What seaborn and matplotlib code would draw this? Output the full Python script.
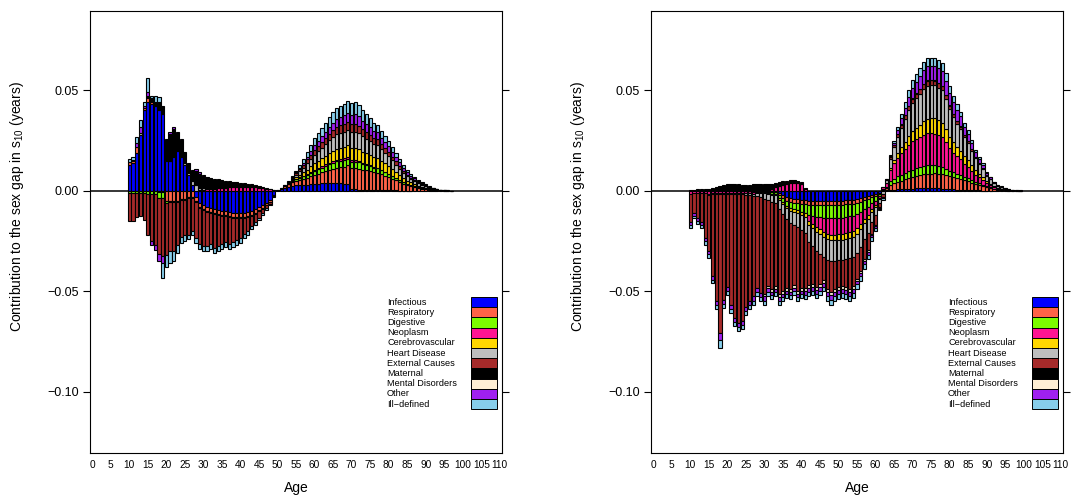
import numpy as np
import matplotlib
matplotlib.use("Agg")
import matplotlib.pyplot as plt
import seaborn as sns
from matplotlib.patches import Rectangle

# ---------------- data (values in 1/1000 years), ages 10..105 ----------------
ages = list(range(10, 106))

causes = ["Infectious", "Respiratory", "Digestive", "Neoplasm", "Cerebrovascular",
          "Heart Disease", "External Causes", "Maternal", "Mental Disorders",
          "Other", "Ill\u2212defined"]
colors = ["#0000FF", "#FF6347", "#7CFC00", "#FF1493", "#FFD700", "#BEBEBE",
          "#A52A2A", "#000000", "#FFEFD5", "#A020F0", "#87CEEB"]

x_ticks = list(range(0, 111, 5))
y_ticks = [0.05, 0.00, -0.05, -0.10]

# ----- left panel -----
L_infectious = [
    13, 14, 19, 28, 40, 44, 43, 42, 40, 38,
    15, 15, 17, 20, 17, 13, 8, 3, -3, -6,
    -7, -8, -8.5, -9, -9.5, -10, -10, -10.5, -11, -11,
    -11, -11, -10.5, -10, -9, -8, -7, -6, -4.5, -2,
    0.3, 1, 1.5, 2, 2.5, 3, 3, 3, 3, 3.2,
    3.5, 3.5, 3.7, 3.8, 4, 4, 4, 3.8, 3.5, 3.2,
    0.8, 0.7, 0.6, 0.5, 0.5, 0.4, 0.4, 0.3, 0.3, 0.3,
    0.2, 0.2, 0.2, 0.1, 0.1, 0.1, 0.1, 0, 0, 0,
    0, 0, 0, 0, 0, 0, 0, 0, 0, 0,
    0, 0, 0, 0, 0, 0]
L_respiratory = [
    1.5, 1, 3, 0, 1, 2, 1, 0, -0.5, -0.5,
    -5, -5, -5, -5, -4, -4, -3, -3, -2, -2,
    -2, -2, -2, -2, -2, -2, -2, -2, -2, -2,
    -2, -2, -2, -2, -2, -1.5, -1.5, -1, -1, -0.5,
    0, 0.3, 0.8, 1.2, 1.7, 2, 2.5, 3, 3.5, 4,
    4.5, 5, 5.5, 6, 6.5, 7, 7.5, 8, 8.5, 9.5,
    10.5, 10.5, 10.5, 10, 9.8, 9.5, 9, 8.8, 8, 7.3,
    6.6, 5.8, 5, 4.2, 3.4, 2.7, 2.2, 1.8, 1.4, 1.1,
    0.8, 0.6, 0.4, 0.3, 0.2, 0.1, 0.1, 0.05, 0, 0,
    0, 0, 0, 0, 0, 0]
L_digestive = [
    -1, -1, -1, -1, -1, -1.5, -1.5, -1.5, -3, -3,
    -1, -0.5, -0.5, -0.5, -0.5, -0.5, -0.5, -0.5, -0.5, -0.5,
    -0.5, -0.5, -0.5, -0.5, -0.5, -0.5, -0.5, -0.5, -0.5, -0.5,
    -0.5, -0.5, -0.5, -0.5, -0.5, -0.5, -0.5, -0.3, -0.3, -0.2,
    0, 0, 0.2, 0.4, 0.6, 0.8, 1, 1.2, 1.5, 1.8,
    2, 2.2, 2.4, 2.6, 2.8, 3, 3.2, 3.2, 3.3, 3.3,
    3.2, 3.2, 3, 2.8, 2.6, 2.4, 2.2, 2.1, 1.9, 1.7,
    1.5, 1.3, 1.1, 0.9, 0.7, 0.6, 0.5, 0.4, 0.3, 0.2,
    0.2, 0.1, 0.1, 0, 0, 0, 0, 0, 0, 0,
    0, 0, 0, 0, 0, 0]
L_neoplasm = [
    0, 0, 0, 0, 0, 0, 0, 0, 0, 0,
    0, 0, 0, 0, 0, 0, 0, 0, 0, 0.5,
    0.5, 1, 1, 1, 1.5, 1.5, 1.5, 2, 2, 2,
    2, 2, 2, 2, 1.8, 1.6, 1.4, 1, 0.7, 0.4,
    0, 0, 0, 0, 0, 0.2, 0.3, 0.3, 0.4, 0.5,
    0.5, 0.6, 0.6, 0.7, 0.7, 0.8, 0.8, 0.8, 0.8, 0.8,
    0.8, 0.8, 0.7, 0.6, 0.5, 0.5, 0.4, 0.4, 0.3, 0.3,
    0.3, 0.2, 0.2, 0.2, 0.1, 0.1, 0.1, 0.1, 0, 0,
    0, 0, 0, 0, 0, 0, 0, 0, 0, 0,
    0, 0, 0, 0, 0, 0]
L_cerebro = [
    0, 0, 0, 0, 0, 0, 0, 0, 0, 0,
    0, 0, 0, 0, 0, 0, 0, 0, 0, 0,
    0, 0, 0, 0, 0, 0, 0, 0, 0, 0,
    0, 0, 0, 0, 0, 0, 0, 0, 0, 0,
    0, 0, 0, 0.3, 0.6, 1, 1.3, 1.8, 2.2, 2.7,
    3.2, 3.6, 4, 4.4, 4.8, 5.2, 5.5, 5.6, 5.8, 5.9,
    6, 6, 5.9, 5.6, 5.4, 5.1, 4.9, 4.8, 4.4, 4,
    3.7, 3.3, 2.8, 2.4, 2, 1.6, 1.3, 1.1, 0.9, 0.7,
    0.5, 0.4, 0.3, 0.2, 0.1, 0.1, 0, 0, 0, 0,
    0, 0, 0, 0, 0, 0]
L_heart = [
    0, 0, 0, 1, 0, 0, 0, 0, 0, 0,
    0.5, 0, 0, 0, 0, 1, 1, 2, 3, 1,
    1, 0, 0, 0, 0, 0, 0, 0, 0, 0,
    0, 0, 0, 0, 0, 0, 0, 0, 0, 0,
    0, 0, 0, 0.3, 0.6, 1, 1.6, 2.2, 3, 3.6,
    4.3, 4.8, 5.3, 5.8, 6.3, 6.8, 7.2, 7.4, 7.6, 7.8,
    8, 8.2, 8, 7.6, 7.2, 6.8, 6.4, 6.3, 5.8, 5.3,
    4.8, 4.3, 3.7, 3.1, 2.6, 2.1, 1.7, 1.4, 1.1, 0.9,
    0.7, 0.5, 0.3, 0.2, 0.1, 0.1, 0.1, 0.05, 0, 0,
    0, 0, 0, 0, 0, 0]
L_external = [
    -14.2, -14.2, -11.8, -11.4, -13.4, -20.4, -23.3, -25.3, -28.1, -29,
    -26, -24.5, -24.5, -21.5, -18.5, -17.5, -18.5, -16.5, -18, -18,
    -18, -17, -15.5, -17, -15.5, -14, -13, -13.5, -12, -11,
    -10, -8, -7, -5, -4, -3.5, -2, -1.5, -0.7, -0.1,
    0, 0, 0.2, 0.3, 0.5, 0.8, 1.2, 1.5, 2, 2.2,
    2.5, 2.8, 3, 3.2, 3.4, 3.6, 3.7, 3.8, 3.8, 3.9,
    4, 4, 3.8, 3.6, 3.4, 3.2, 3, 2.9, 2.6, 2.4,
    2.2, 1.9, 1.6, 1.4, 1.1, 0.9, 0.7, 0.6, 0.5, 0.4,
    0.3, 0.2, 0.1, 0.1, 0, 0, 0, 0, 0, 0,
    0, 0, 0, 0, 0, 0]
L_maternal = [
    0, 0.5, 0, 0, 0, 1, 2, 2, 4, 4,
    10.5, 13.5, 14, 9, 8.5, 5.5, 5, 5.5, 7, 7,
    6, 5.5, 5.3, 5, 4.3, 4, 3.3, 2.8, 2.5, 2.3,
    2, 1.7, 1.5, 1.2, 1, 0.8, 0.6, 0.5, 0.3, 0.2,
    0, 0, 0, 0, 0, 0, 0, 0, 0, 0,
    0, 0, 0, 0, 0, 0, 0, 0, 0, 0,
    0, 0, 0, 0, 0, 0, 0, 0, 0, 0,
    0, 0, 0, 0, 0, 0, 0, 0, 0, 0,
    0, 0, 0, 0, 0, 0, 0, 0, 0, 0,
    0, 0, 0, 0, 0, 0]
L_mental = [
    0, 0, 0, 0, 0, 0, 0, 0, 0, 0,
    0, 0, 0, 0, 0, 0, 0, 0, 0, 0,
    0, 0, 0, 0, 0, 0, 0, 0, 0, 0,
    0, 0, 0, 0, 0, 0, 0, 0, 0, 0,
    0, 0, 0, 0, 0, 0, 0, 0, 0, 0,
    0, 0, 0, 0, 0, 0, 0, 0, 0, 0,
    0, 0, 0, 0, 0, 0, 0, 0, 0, 0,
    0, 0, 0, 0, 0, 0, 0, 0, 0, 0,
    0, 0, 0, 0, 0, 0, 0, 0, 0, 0,
    0, 0, 0, 0, 0, 0]
L_other = [
    0, 0, 2, 3, 1, 2, -2, -2.5, -3.5, -3.4,
    0, 1, 1, 0.5, 0.5, 0, 0, 0, 1, 1,
    0.5, 0.5, 0, 0, 0, 0, 0, 0, 0, 0,
    0, 0, 0, 0, 0, 0, 0, 0, 0, 0,
    0, 0, 0, 0, 0.3, 0.4, 0.6, 1, 1.4, 1.8,
    2.2, 2.5, 2.8, 3, 3.2, 3.5, 3.8, 4, 4.2, 4.4,
    4.5, 4.7, 4.5, 4.2, 4, 3.8, 3.6, 3.5, 3.2, 3,
    2.8, 2.5, 2.2, 1.9, 1.5, 1.2, 1, 0.8, 0.7, 0.5,
    0.4, 0.3, 0.2, 0.2, 0.1, 0.1, 0, 0, 0, 0,
    0, 0, 0, 0, 0, 0]
L_illdefined = [
    1.5, 1.5, 3, 3, 2, 7, 1, 3, 2.5, -7.5,
    -6, -6, -5, -4, -3, -3, -2, -2, -2.5, -2.5,
    -2.5, -2.5, -2.5, -2.5, -2.5, -2.5, -2.5, -2.5, -2.5, -2.5,
    -2.5, -2, -2, -1.5, -1.5, -1, -1, -0.7, -0.5, -0.2,
    0.2, 0.2, 0.3, 0.5, 0.7, 0.8, 1.5, 2, 2.5, 3.2,
    3.8, 4, 4.2, 4.5, 4.8, 5.1, 5.3, 5.4, 5.5, 5.7,
    5.7, 5.9, 5.5, 5.1, 4.6, 4.3, 4.1, 3.9, 3.5, 3.2,
    2.9, 2.5, 2.2, 1.8, 1.5, 1.2, 0.9, 0.8, 0.6, 0.4,
    0.3, 0.3, 0.2, 0.1, 0.1, 0.1, 0.1, 0.05, 0, 0,
    0, 0, 0, 0, 0, 0]

# ----- right panel -----
R_infectious = [
    0, 0, 0, 0, 0, 0, 0, 0, 0, 0,
    0, 0, 0, 0, 0, 0, 0, 0, 0, 0,
    0, 0, 0, 0, -1, -2, -3, -3.5, -4, -4,
    -4.5, -4.5, -5, -5, -5, -5, -5, -5, -5, -5,
    -5, -5, -4.5, -4.5, -4.5, -4, -3.5, -3, -2.5, -2,
    -1.5, -1, 0.2, 0.3, 0.5, 0.6, 0.7, 0.8, 0.9, 1,
    1.1, 1.2, 1.2, 1.3, 1.3, 1.3, 1.3, 1.2, 1.1, 1,
    0.8, 0.7, 0.6, 0.5, 0.4, 0.3, 0.3, 0.2, 0.2, 0.1,
    0.1, 0.1, 0, 0, 0, 0, 0, 0, 0, 0,
    0, 0, 0, 0, 0, 0]
R_respiratory = [
    0.5, 0.5, 0.5, 0.5, 0.5, 0.5, 0, 0, 0, 0,
    0, 0, 0, 0, 0, 0, 0, 0, 0, 0,
    0, -0.5, -0.5, -0.5, -1, -1.5, -2, -2, -2, -2,
    -2, -2, -2, -2, -2, -2, -2, -2, -2, -2,
    -2, -2, -2, -2, -2, -2, -2, -1.5, -1.5, -1,
    -1, -0.5, 0.5, 1, 2.5, 3.2, 3.8, 4.3, 4.8, 5.3,
    5.8, 6.2, 6.6, 7, 7.3, 7.3, 7.4, 7.4, 7.3, 6.9,
    6.4, 6, 5.6, 5.3, 4.8, 4.4, 3.8, 3.2, 2.7, 2.2,
    1.6, 1.2, 0.8, 0.5, 0.4, 0.2, 0.1, 0.1, 0.1, 0.05,
    0, 0, 0, 0, 0, 0]
R_digestive = [
    0, 0, 0, 0, 0, 0, 0, 0, 0, 0,
    0, 0, 0, 0, 0, 0, 0, -0.5, -0.5, -0.5,
    -0.5, -0.5, -1, -1, -1.5, -2, -2.5, -3, -3, -3.5,
    -4, -4.5, -5, -5.5, -6, -6, -6.5, -6.5, -6.5, -6.5,
    -6.5, -6.5, -6.5, -6, -6, -5.5, -5, -4.5, -4, -3,
    -2.5, -1, 0.4, 0.8, 1.8, 2.3, 2.7, 3, 3.3, 3.5,
    3.7, 3.8, 3.9, 4, 4, 4, 4, 3.8, 3.6, 3.2,
    2.8, 2.5, 2.3, 2.1, 1.8, 1.6, 1.3, 1, 0.8, 0.7,
    0.5, 0.4, 0.2, 0.1, 0.1, 0.1, 0, 0, 0, 0,
    0, 0, 0, 0, 0, 0]
R_neoplasm = [
    -1.5, -1, -1.2, -1.2, -1, -1.5, -1, -1, -1, -1,
    -1, -1, -1, -1, -1, -1, -1, -1, -0.5, 0,
    0, 0, 1, 2, 2.5, 3, 3.5, 4, 4, 4,
    3.5, 1, -3, -4, -5, -6, -7, -8, -8.5, -8.5,
    -8, -8, -8, -8, -7.5, -7, -6, -5, -4, -3,
    -2, -1, 0.8, 1.6, 5.5, 7.5, 9.2, 10.5, 11.8, 13,
    14, 14.6, 15.1, 15.7, 16, 16, 15.8, 15.2, 14.6, 13,
    11.2, 9.8, 8.7, 7.8, 6.5, 5.6, 4.6, 3.6, 3, 2.4,
    1.6, 1.2, 0.8, 0.5, 0.4, 0.2, 0.1, 0.1, 0, 0,
    0, 0, 0, 0, 0, 0]
R_cerebro = [
    0, 0, 0, 0, 0, 0, 0, 0, 0, 0,
    0, 0, 0, 0, 0, 0, 0, 0, 0, -0.5,
    -0.5, -0.5, -0.5, -0.5, -1, -1, -1, -1.5, -1.5, -1.5,
    -1.5, -2, -2, -2, -2.5, -2.5, -2.5, -2.5, -2.5, -2.5,
    -3, -3, -3, -3, -3, -3, -2.5, -2, -2, -1.5,
    -1, -0.5, 0.2, 0.4, 1.2, 1.8, 2.4, 3, 3.7, 4.4,
    5.1, 5.6, 6.2, 6.8, 7.3, 7.5, 7.5, 7.4, 7.2, 6.5,
    5.7, 5.1, 4.6, 4.2, 3.6, 3.2, 2.7, 2.2, 1.8, 1.4,
    1, 0.7, 0.5, 0.3, 0.2, 0.1, 0.1, 0, 0, 0,
    0, 0, 0, 0, 0, 0]
R_heart = [
    0, 0, 0, 0, 0, -0.5, -0.5, -0.5, -0.5, -0.5,
    -0.5, -0.5, -0.5, -0.5, -0.5, -1, -1, -1, -1.5, -2,
    -3, -3, -3.5, -4, -4.5, -5, -5.5, -6, -6.5, -7,
    -7.5, -8, -8.5, -9, -9.5, -10, -10, -10.5, -10.5, -10.5,
    -10, -10, -10, -10, -10, -9.5, -9, -8, -7, -5,
    -4, -2, -1.5, 1.2, 4.5, 6.3, 8.2, 9.8, 11.3, 12.8,
    14, 14.7, 15.3, 15.9, 16.5, 16.5, 16.5, 16.4, 16.2, 15.2,
    13.7, 12.5, 11.6, 10.8, 9.5, 8.6, 7.2, 5.9, 4.9, 4,
    2.8, 2.1, 1.4, 0.9, 0.6, 0.4, 0.3, 0.2, 0.1, 0.1,
    0, 0, 0, 0, 0, 0]
R_external = [
    -14, -10, -12.5, -14.5, -22.5, -28, -41, -53.5, -69.5, -53,
    -46.5, -55.3, -61.9, -64.5, -63.5, -55.6, -53, -50.1, -46, -48,
    -47.6, -43, -43.5, -41.5, -42.6, -38.5, -34.3, -33, -30, -32,
    -28.8, -27.5, -21.5, -18.7, -17.8, -14.7, -11.5, -14.5, -15.6, -14,
    -13.5, -12.8, -14, -15.5, -14.3, -13, -12, -10, -8.5, -6,
    -5, -2, -1.8, 0.3, 0.8, 1, 1.3, 1.6, 1.8, 2,
    2.2, 2.3, 2.4, 2.5, 2.5, 2.5, 2.4, 2.3, 2.2, 2,
    1.8, 1.6, 1.4, 1.3, 1.1, 1, 0.8, 0.6, 0.5, 0.4,
    0.3, 0.2, 0.1, 0.1, 0.1, 0, 0, 0, 0, 0,
    0, 0, 0, 0, 0, 0]
R_maternal = [
    0, 0, 0.5, 0.5, 0.5, 0.5, 1.5, 2, 2.5, 3,
    3.5, 3.5, 3.5, 3.5, 3, 3, 3, 3.5, 3.5, 3.5,
    3.5, 3.5, 2.5, 2, 2, 2, 1.5, 1.5, 1.5, 1,
    1, 0.5, 0, 0, 0, 0, 0, 0, 0, 0,
    0, 0, 0, 0, 0, 0, 0, 0, 0, 0,
    0, 0, 0, 0, 0.1, 0.1, 0.2, 0.2, 0.2, 0.2,
    0.2, 0.2, 0.2, 0.2, 0.2, 0.2, 0.2, 0.2, 0.2, 0.1,
    0.1, 0.1, 0.1, 0.1, 0, 0, 0, 0, 0, 0,
    0, 0, 0, 0, 0, 0, 0, 0, 0, 0,
    0, 0, 0, 0, 0, 0]
R_mental = [
    0, 0, 0, 0, 0, 0, 0, 0, 0, 0,
    0, 0, 0, 0, 0, 0, 0, 0, 0, 0,
    -1, -1, -1.5, -1.5, -1.5, -1.5, -1.5, -1.5, -1.5, -1.5,
    -1.5, -1.5, -1.5, -1.5, -1.5, -1.5, -1.5, -1.5, -1.5, -1.5,
    -1.5, -1.5, -1.5, -1.5, -1.5, -1, -1, -1, -1, -0.5,
    -0.5, -0.4, 0, 0, 0, 0, 0, 0, 0, 0,
    0, 0, 0, 0, 0, 0, 0, 0, 0, 0,
    0, 0, 0, 0, 0, 0, 0, 0, 0, 0,
    0, 0, 0, 0, 0, 0, 0, 0, 0, 0,
    0, 0, 0, 0, 0, 0]
R_other = [
    -1.5, -1.3, -1.3, -1.4, -1.5, -1.5, -1.7, -2, -3.5, -1.8,
    -2, -2, -2, -2, -2, -2, -2, -2, -2, -2,
    -2, -2, -1.5, -1.5, -1.5, -1.5, -1.5, -1.5, -1.5, -1.5,
    -1.5, -2, -2, -2, -2, -2, -2, -2, -2, -2,
    -2, -2, -2, -2, -2, -1.5, -1.5, -1.5, -1.5, -1,
    -1, -0.5, -0.5, 0.2, 0.6, 1.2, 2, 2.8, 3.6, 4.6,
    5.3, 5.7, 6.2, 6.6, 6.9, 6.7, 6.9, 7.1, 7.2, 7,
    6.3, 5.8, 5.4, 4.9, 4.1, 3.7, 3.1, 2.5, 2.1, 1.7,
    1.1, 0.8, 0.5, 0.4, 0.3, 0.2, 0.1, 0.1, 0.1, 0.05,
    0, 0, 0, 0, 0, 0]
R_illdefined = [
    -1.5, -1.3, -1.4, -1.4, -1.8, -1.9, -1.7, -2, -3.5, -2,
    -2, -2, -2, -2, -2, -2, -2, -2, -2, -2,
    -2, -2, -2, -2, -2, -2, -2, -2, -2, -2,
    -2, -2, -2, -2, -2, -2, -2, -2.5, -2.5, -2.5,
    -2.5, -2.5, -2.5, -2.5, -2.5, -2.5, -2.5, -2.5, -2, -2,
    -1.5, -0.5, -0.7, 0.2, 0.5, 1, 1.5, 2, 2.6, 3.2,
    3.6, 3.7, 3.9, 4, 4, 4, 4, 4, 3.9, 3.6,
    3.2, 2.9, 2.7, 2.4, 2.1, 1.9, 1.5, 1.2, 1, 0.8,
    0.6, 0.4, 0.3, 0.2, 0.1, 0.1, 0.1, 0, 0, 0,
    0, 0, 0, 0, 0, 0]

left_series = [L_infectious, L_respiratory, L_digestive, L_neoplasm, L_cerebro,
               L_heart, L_external, L_maternal, L_mental, L_other, L_illdefined]
right_series = [R_infectious, R_respiratory, R_digestive, R_neoplasm, R_cerebro,
                R_heart, R_external, R_maternal, R_mental, R_other, R_illdefined]

# ---------------- style ----------------
sns.set_theme(style="white")
plt.rcParams["font.family"] = ["Liberation Sans", "DejaVu Sans"]
plt.rcParams["mathtext.fontset"] = "custom"
plt.rcParams["mathtext.rm"] = "Liberation Sans"
plt.rcParams["mathtext.it"] = "Liberation Sans:italic"
plt.rcParams["axes.unicode_minus"] = True

W, H = 1072, 497
fig = plt.figure(figsize=(W / 100, H / 100), dpi=100)
fig.patch.set_facecolor("white")

panels = [(90, left_series), (651, right_series)]
ax_w, ax_top, ax_bot = 412, 11, 453


def draw_panel(ax, series):
    x = np.array(ages, dtype=float)
    pos_base = np.zeros(len(ages))
    neg_base = np.zeros(len(ages))
    ax.axhline(0, color="black", lw=1.1, zorder=1)
    for vals, col in zip(series, colors):
        v = np.array(vals, dtype=float) / 1000.0
        pos = np.where(v > 0, v, 0.0)
        neg = np.where(v < 0, v, 0.0)
        mp = pos > 0
        mn = neg < 0
        if mp.any():
            ax.bar(x[mp], pos[mp], bottom=pos_base[mp], width=0.86, color=col,
                   edgecolor="black", linewidth=0.8, zorder=2)
        if mn.any():
            ax.bar(x[mn], neg[mn], bottom=neg_base[mn], width=0.86, color=col,
                   edgecolor="black", linewidth=0.8, zorder=2)
        pos_base += pos
        neg_base += neg

    ax.set_xlim(-0.6, 110.6)
    ax.set_ylim(-0.1305, 0.0895)
    ax.set_xticks(x_ticks)
    ax.set_xticklabels([str(t) for t in x_ticks])
    ax.set_yticks(y_ticks)
    ax.set_yticklabels(["%.2f" % t if t >= 0 else "\u2212%.2f" % abs(t) for t in y_ticks])
    ax.tick_params(axis="y", which="both", left=True, right=True, direction="out",
                   length=5, width=0.8, labelsize=9, pad=3, colors="black")
    ax.tick_params(axis="x", length=0, labelsize=7.3, pad=5, colors="black")
    for s in ax.spines.values():
        s.set_color("black")
        s.set_linewidth(0.8)
        s.set_visible(True)

    # legend (key) inside panel
    row_h = 0.0231
    top = 0.353
    for i, (c, col) in enumerate(zip(causes, colors)):
        y0 = top - (i + 1) * row_h
        ax.add_patch(Rectangle((0.925, y0), 0.063, row_h, transform=ax.transAxes,
                               facecolor=col, edgecolor="black", lw=0.7, zorder=5,
                               clip_on=False))
        ax.text(0.721, y0 + row_h / 2, c, transform=ax.transAxes, fontsize=6.6,
                va="center", ha="left", color="black", zorder=5)

    ax.text(0.5, -0.079, "Age", transform=ax.transAxes, fontsize=10,
            ha="center", va="center", color="black")
    ax.text(-0.177, 0.557, r"Contribution to the sex gap in $\mathregular{s_{10}}$ (years)",
            transform=ax.transAxes, fontsize=10, rotation=90,
            ha="center", va="center", color="black")


for left_px, series in panels:
    ax = fig.add_axes([left_px / W, (H - ax_bot) / H, ax_w / W, (ax_bot - ax_top) / H])
    ax.set_facecolor("white")
    ax.grid(False)
    draw_panel(ax, series)

fig.savefig("out.png", dpi=100, facecolor="white")
